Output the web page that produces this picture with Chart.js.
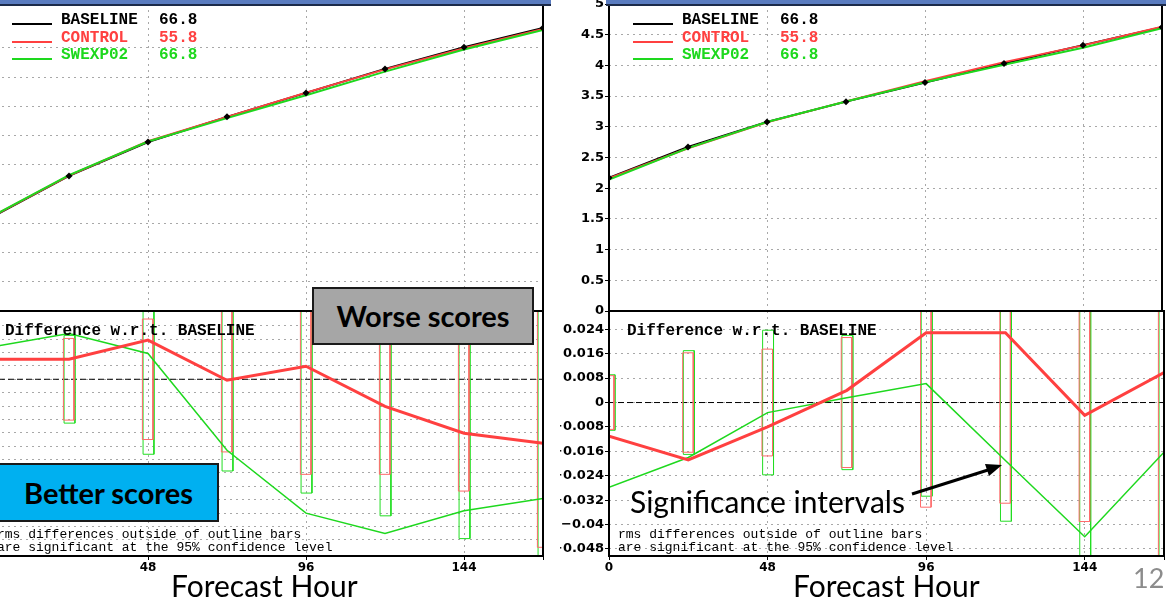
<!DOCTYPE html>
<html lang="en">
<head>
<meta charset="UTF-8">
<title>RMS by Forecast Hour</title>
<script src="https://cdn.jsdelivr.net/npm/chart.js"></script>
<style>
  body {
    margin: 0;
    width: 1166px;
    height: 599px;
    overflow: hidden;
    position: relative;
    background: #fff;
    font-family: 'Lato', sans-serif;
  }
  canvas { position: absolute; }
  .band {
    position: absolute;
    top: 0;
    height: 4px;
    background: #5a7cc0;
    border-bottom: 2px solid #1c2b4a;
    z-index: 3;
  }
  .gr {
    position: absolute;
    font-family: 'Liberation Mono', monospace;
    font-weight: bold;
    font-size: 16px;
    line-height: 16px;
    white-space: pre;
    z-index: 2;
  }
  .key { position: absolute; width: 40px; height: 2px; z-index: 2; }
  .note {
    position: absolute;
    font-family: 'Liberation Mono', monospace;
    font-size: 13px;
    line-height: 13px;
    white-space: pre;
    z-index: 2;
  }
  .callout {
    position: absolute;
    box-sizing: border-box;
    border: 2px solid #1a1a1a;
    font-weight: bold;
    font-size: 29px;
    text-align: center;
    color: #000;
    z-index: 4;
  }
  .big {
    position: absolute;
    font-size: 30px;
    line-height: 32px;
    white-space: pre;
    z-index: 4;
  }
  svg { position: absolute; left: 0; top: 0; z-index: 4; }
</style>
</head>
<body>

<canvas id="leftTop" width="612" height="322" style="left:-60px;top:0"></canvas>
<canvas id="leftDiff" width="612" height="299" style="left:-60px;top:300px"></canvas>
<canvas id="rightTop" width="606" height="322" style="left:560px;top:0"></canvas>
<canvas id="rightDiff" width="606" height="299" style="left:560px;top:300px"></canvas>

<div class="band" style="left:0;width:551px"></div>
<div class="band" style="left:606px;width:560px"></div>

<div id="legends"></div>

<div class="gr" style="left:5px;top:323px">Difference w.r.t. BASELINE</div>
<div class="gr" style="left:627px;top:323px">Difference w.r.t. BASELINE</div>

<div class="note" style="left:-3px;top:528px">rms differences outside of outline bars</div>
<div class="note" style="left:-3px;top:541px">are significant at the 95% confidence level</div>
<div class="note" style="left:618px;top:528px">rms differences outside of outline bars</div>
<div class="note" style="left:618px;top:541px">are significant at the 95% confidence level</div>

<div class="callout" style="left:312px;top:287px;width:222px;height:58px;line-height:54px;background:#a6a6a6">Worse scores</div>
<div class="callout" style="left:-2px;top:463px;width:221px;height:59px;line-height:55px;background:#00b0f0">Better scores</div>

<div class="big" style="left:630px;top:485px">Significance intervals</div>
<svg width="1166" height="599">
  <line x1="912" y1="494" x2="988" y2="470" stroke="#000" stroke-width="3"/>
  <polygon points="1002,465 985,464 989,476" fill="#000"/>
</svg>

<div class="big" style="left:171px;top:569px">Forecast Hour</div>
<div class="big" style="left:793px;top:569px">Forecast Hour</div>
<div class="big" style="left:1133px;top:562px;font-size:27px;color:#8c8c8c">12</div>

<script>
  // forecast hours of the verification points
  const hours = [0, 24, 48, 72, 96, 120, 144, 168];
  const xTickValues = [0, 48, 96, 144, 168];
  const xTickLabels = ['0', '48', '96', '144', ''];

  const seriesNames = ['BASELINE', 'CONTROL', 'SWEXP02'];
  const seriesScores = ['66.8', '55.8', '66.8'];

  // left panel: rms
  const leftBaseline = [1.59, 2.31, 2.89, 3.32, 3.73, 4.14, 4.51, 4.84];
  const leftControl  = [1.596, 2.316, 2.902, 3.320, 3.734, 4.132, 4.494, 4.821];
  const leftSwexp    = [1.600, 2.324, 2.898, 3.299, 3.690, 4.094, 4.471, 4.804];
  // left panel: difference from baseline and 95% half-widths
  const leftDiffControl = [0.0060, 0.0060, 0.0117, -0.0003, 0.0039, -0.0081, -0.0161, -0.0191];
  const leftDiffSwexp   = [0.0096, 0.0137, 0.0077, -0.0212, -0.0400, -0.0461, -0.0393, -0.0356];
  const leftCiControl   = [0.0090, 0.0122, 0.0180, 0.0217, 0.0284, 0.0284, 0.0334, 0.0502];
  const leftCiSwexp     = [0.0090, 0.0131, 0.0224, 0.0274, 0.0340, 0.0408, 0.0476, 0.0600];

  // right panel: rms
  const rightBaseline = [2.17, 2.67, 3.08, 3.41, 3.72, 4.03, 4.33, 4.62];
  const rightControl  = [2.159, 2.651, 3.072, 3.414, 3.743, 4.053, 4.326, 4.630];
  const rightSwexp    = [2.142, 2.652, 3.077, 3.412, 3.726, 4.011, 4.286, 4.604];
  // right panel: difference from baseline and 95% half-widths
  const rightDiffControl = [-0.0110, -0.0188, -0.0080, 0.0040, 0.0229, 0.0229, -0.0042, 0.0098];
  const rightDiffSwexp   = [-0.0278, -0.0180, -0.0033, 0.0016, 0.0062, -0.0190, -0.0440, -0.0163];
  const rightCiControl   = [0.0088, 0.0163, 0.0175, 0.0213, 0.0343, 0.0330, 0.0390, 0.0650];
  const rightCiSwexp     = [0.0091, 0.0170, 0.0237, 0.0220, 0.0307, 0.0389, 0.0600, 0.0650];

  const rmsTickValues = [0, 0.5, 1, 1.5, 2, 2.5, 3, 3.5, 4, 4.5, 5];
  const rmsTickLabels = ['0', '0.5', '1', '1.5', '2', '2.5', '3', '3.5', '4', '4.5', '5'];
  const diffTickValues = [0.024, 0.016, 0.008, 0, -0.008, -0.016, -0.024, -0.032, -0.04, -0.048];
  const diffTickLabels = ['0.024', '0.016', '0.008', '0', '\u22120.008', '\u22120.016', '\u22120.024', '\u22120.032', '\u22120.04', '\u22120.048'];

  const BLACK = '#000000', RED = '#ff4040', GREEN = '#1ed81e';
  const GRID = '#a8a8a8';
  const tickFont = { family: 'DejaVu Sans', weight: 'bold', size: 13 };
  const xFont = { family: 'DejaVu Sans', weight: 'bold', size: 12 };

  const framePlugin = {
    id: 'frame',
    afterDatasetsDraw(chart) {
      const { ctx, chartArea: a } = chart;
      ctx.save();
      ctx.strokeStyle = '#000';
      ctx.lineWidth = 2;
      ctx.strokeRect(a.left, a.top, a.width, a.height);
      ctx.restore();
    }
  };

  function pts(ys) {
    return hours.map((h, i) => ({ x: h, y: ys[i] }));
  }

  // outline bars: one rectangle per forecast hour, from -half to +half
  function bars(half, dl, dr) {
    const out = [];
    hours.forEach((h, i) => {
      out.push({ x: h - dl, y: -half[i] }, { x: h - dl, y: half[i] },
               { x: h + dr, y: half[i] }, { x: h + dr, y: -half[i] },
               { x: h - dl, y: -half[i] }, { x: h, y: null });
    });
    return out;
  }

  function noPad(s) {
    s.paddingTop = 0; s.paddingBottom = 0; s.paddingLeft = 0; s.paddingRight = 0;
  }

  function xScale(showLabels) {
    return {
      type: 'linear', min: 0, max: 168,
      afterBuildTicks: s => { s.ticks = xTickValues.map(v => ({ value: v })); },
      afterFit: s => { s.height = showLabels ? 22 : 0; noPad(s); },
      ticks: {
        display: showLabels, font: xFont, color: BLACK, padding: 1, maxRotation: 0,
        autoSkip: false,
        callback: v => xTickLabels[xTickValues.indexOf(v)]
      },
      grid: { color: GRID, drawTicks: showLabels, tickLength: 4, tickColor: BLACK },
      border: { display: false, dash: [2, 4] }
    };
  }

  function baseOptions(padRight, scales, top) {
    return {
      responsive: false,
      animation: false,
      devicePixelRatio: 1,
      layout: { padding: { left: 0, right: padRight, top: top ? 4 : 11, bottom: top ? 11 : 21 } },
      plugins: { legend: { display: false }, tooltip: { enabled: false } },
      elements: { point: { radius: 0 }, line: { tension: 0 } },
      scales: scales
    };
  }

  function topChart(id, padRight, yw, showY, base, ctrl, swex, yMax) {
    const yAxis = {
      min: 0, max: yMax,
      afterFit: s => { s.width = yw; noPad(s); },
      ticks: { stepSize: 0.5, display: showY, font: tickFont, color: BLACK, padding: 1 },
      grid: { color: GRID, drawTicks: showY, tickLength: 4, tickColor: BLACK },
      border: { display: false, dash: [2, 4] }
    };
    if (showY) {
      yAxis.afterBuildTicks = s => { s.ticks = rmsTickValues.map(v => ({ value: v })); };
      yAxis.ticks.callback = v => rmsTickLabels[rmsTickValues.indexOf(v)];
    }
    new Chart(document.getElementById(id), {
      type: 'line',
      data: {
        datasets: [
          { data: pts(base), showLine: false, pointRadius: 3.5, pointStyle: 'rectRot',
            pointBackgroundColor: BLACK, pointBorderWidth: 0 },
          { data: pts(swex), borderColor: GREEN, borderWidth: 2 },
          { data: pts(ctrl), borderColor: RED, borderWidth: 2 },
          { data: pts(base), borderColor: BLACK, borderWidth: 2 }
        ]
      },
      options: baseOptions(padRight, { x: xScale(false), y: yAxis }, true),
      plugins: [framePlugin]
    });
  }

  function diffChart(id, padRight, yw, showY, yMin, yMax, dCtrl, dSwex, ciCtrl, ciSwex) {
    const yAxis = {
      min: yMin, max: yMax,
      afterFit: s => { s.width = yw; noPad(s); },
      ticks: { display: showY, font: tickFont, color: BLACK, padding: 1 },
      grid: { color: GRID, drawTicks: showY, tickLength: 4, tickColor: BLACK },
      border: { display: false, dash: [2, 4] }
    };
    if (showY) {
      yAxis.afterBuildTicks = s => { s.ticks = diffTickValues.map(v => ({ value: v })); };
      yAxis.ticks.callback = v => diffTickLabels[diffTickValues.indexOf(v)];
    } else {
      yAxis.ticks.stepSize = 0.004;
    }
    new Chart(document.getElementById(id), {
      type: 'line',
      data: {
        datasets: [
          { data: pts(dCtrl), borderColor: RED, borderWidth: 3 },
          { data: pts(dSwex), borderColor: GREEN, borderWidth: 1.5 },
          { data: bars(ciCtrl, 1.7, 1.5), borderColor: '#ff6a6a', borderWidth: 1 },
          { data: bars(ciSwex, 1.5, 1.8), borderColor: '#22dd22', borderWidth: 1 },
          { data: [{ x: 0, y: 0 }, { x: 168, y: 0 }], borderColor: BLACK, borderWidth: 1,
            borderDash: [6, 3] }
        ]
      },
      options: baseOptions(padRight, { x: xScale(true), y: yAxis }, false),
      plugins: [framePlugin]
    });
  }

  topChart('leftTop', 9, 50, false, leftBaseline, leftControl, leftSwexp, 5.25);
  topChart('rightTop', 2, 49, true, rightBaseline, rightControl, rightSwexp, 5);
  diffChart('leftDiff', 9, 50, false, -0.0528, 0.0204,
            leftDiffControl, leftDiffSwexp, leftCiControl, leftCiSwexp);
  diffChart('rightDiff', 2, 49, true, -0.0503, 0.0300,
            rightDiffControl, rightDiffSwexp, rightCiControl, rightCiSwexp);

  // legend block in each rms panel
  const legendColors = [BLACK, RED, GREEN];
  const legendHost = document.getElementById('legends');
  [12, 633].forEach(x0 => {
    seriesNames.forEach((name, i) => {
      const yc = 20 + i * 17.5;
      legendHost.insertAdjacentHTML('beforeend',
        `<div class="key" style="left:${x0}px;top:${yc + 3}px;background:${legendColors[i]}"></div>` +
        `<div class="gr" style="left:${x0 + 49}px;top:${yc - 8}px;color:${legendColors[i]}">${name}</div>` +
        `<div class="gr" style="left:${x0 + 147}px;top:${yc - 8}px;color:${legendColors[i]}">${seriesScores[i]}</div>`);
    });
  });
</script>
</body>
</html>
